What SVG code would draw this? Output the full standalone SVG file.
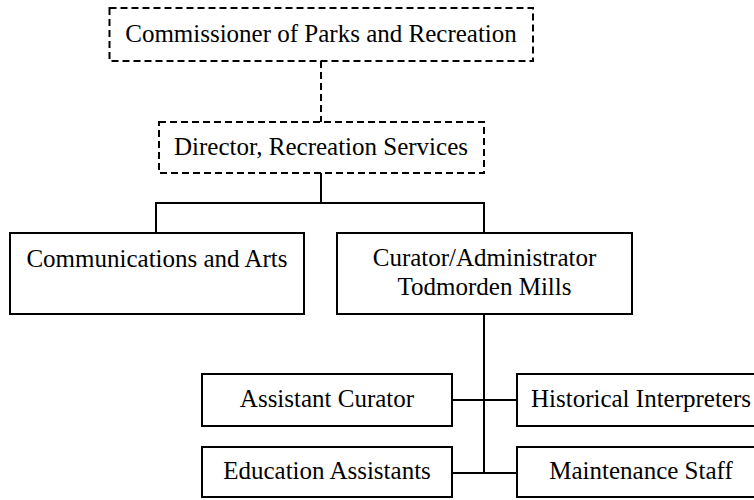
<svg xmlns="http://www.w3.org/2000/svg" width="754" height="500" viewBox="0 0 754 500">
<style>
.box{fill:#fff;stroke:#000;stroke-width:2}
.dash{stroke-dasharray:7 4}
.ln{fill:none;stroke:#000;stroke-width:2}
text{font-family:"Liberation Serif","Times New Roman",serif;font-size:25px;fill:#000;text-anchor:middle}
</style>
<rect width="754" height="500" fill="#fff"/>
<g id="connectors">
<line class="ln dash" x1="321" y1="61" x2="321" y2="122"/>
<polyline class="ln" points="321,173 321,203"/>
<polyline class="ln" points="156,233 156,203 484,203 484,233"/>
<line class="ln" x1="484" y1="314" x2="484" y2="473"/>
<line class="ln" x1="452" y1="400" x2="517" y2="400"/>
<line class="ln" x1="452" y1="473" x2="517" y2="473"/>
</g>
<g id="commissioner">
<rect class="box dash" x="109.5" y="8" width="423.5" height="53"/>
<text x="321" y="42">Commissioner of Parks and Recreation</text>
</g>
<g id="director">
<rect class="box dash" x="159" y="122" width="325" height="51"/>
<text x="321" y="155">Director, Recreation Services</text>
</g>
<g id="communications">
<rect class="box" x="10" y="233" width="294" height="81"/>
<text x="157" y="267">Communications and Arts</text>
</g>
<g id="curator">
<rect class="box" x="337" y="233" width="295" height="81"/>
<text x="484.5" y="266">Curator/Administrator</text>
<text x="484.5" y="295">Todmorden Mills</text>
</g>
<g id="assistant-curator">
<rect class="box" x="202" y="374" width="250" height="52"/>
<text x="327" y="407">Assistant Curator</text>
</g>
<g id="education-assistants">
<rect class="box" x="202" y="447" width="250" height="50"/>
<text x="327" y="479">Education Assistants</text>
</g>
<g id="historical-interpreters">
<rect class="box" x="517" y="374" width="250" height="52"/>
<text x="641" y="407">Historical Interpreters</text>
</g>
<g id="maintenance-staff">
<rect class="box" x="517" y="447" width="250" height="50"/>
<text x="641" y="479">Maintenance Staff</text>
</g>
</svg>
